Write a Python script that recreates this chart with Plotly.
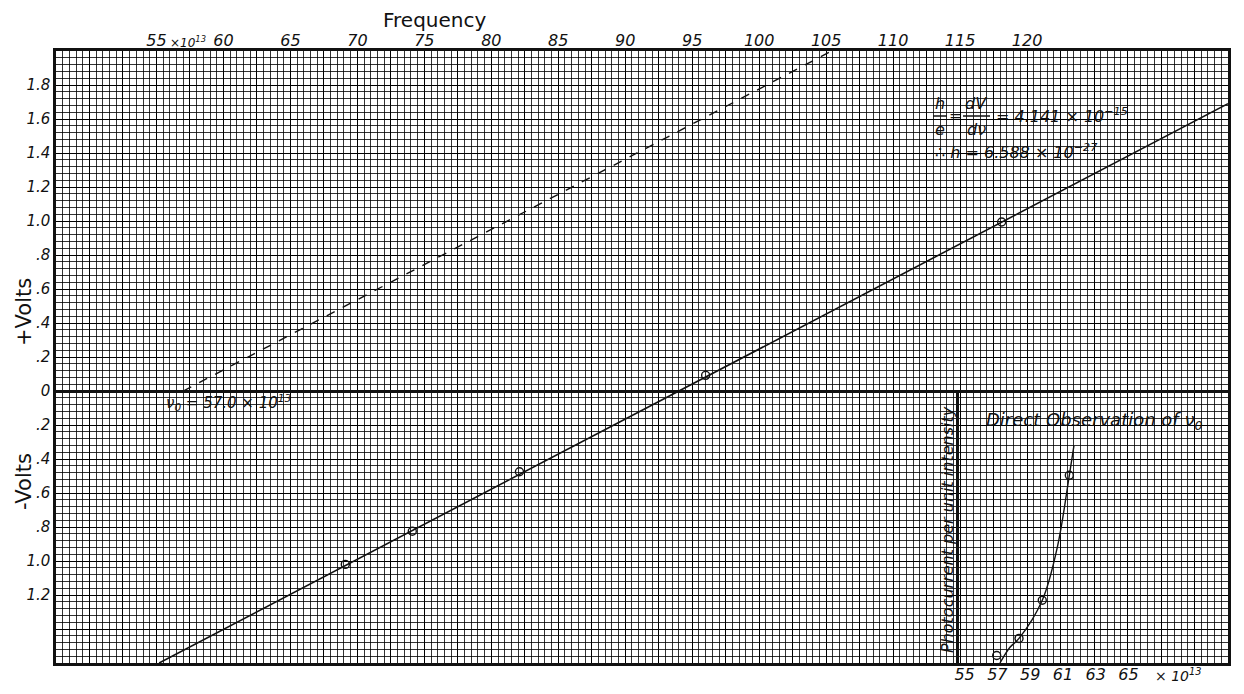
import plotly.graph_objects as go

# ---------------- data ----------------
freq = [69.1, 74.1, 82.1, 96.0, 118.1]            # x10^13 Hz
volts = [-1.02, -0.825, -0.475, 0.092, 0.994]      # V
fit_freq = [55.2, 135.0]
fit_volts = [-1.6, 1.69]
dash_freq = [57.0, 105.4]
dash_volts = [0.0, 2.0]

x_tickvals = [55, 60, 65, 70, 75, 80, 85, 90, 95, 100, 105, 110, 115, 120]
x_ticktext = ["55", "60", "65", "70", "75", "80", "85", "90", "95", "100", "105", "110", "115", "120"]
y_tickvals = [-1.2, -1.0, -0.8, -0.6, -0.4, -0.2, 0, 0.2, 0.4, 0.6, 0.8, 1.0, 1.2, 1.4, 1.6, 1.8]
y_ticktext = ["1.2", "1.0", ".8", ".6", ".4", ".2", "0", ".2", ".4", ".6", ".8", "1.0", "1.2", "1.4", "1.6", "1.8"]

inset_freq = [56.96, 58.32, 59.74, 61.39]
inset_current = [1.1, 3.6, 9.2, 27.5]
inset_curve_freq = [57.16, 57.77, 58.32, 59.74, 60.67, 61.39, 61.67]
inset_curve_current = [0.0, 2.3, 3.6, 9.2, 17.1, 27.5, 31.8]
inset_tickvals = [55, 57, 59, 61, 63, 65]
inset_ticktext = ["55", "57", "59", "61", "63", "65"]

# ---------------- layout geometry ----------------
# the page body adds an 8px offset; plot area should land at x 56..1228, y 51..663 on screen
OFF = 8
W, H = 1244 - 2 * OFF, 694 - 2 * OFF
PL, PR, PT, PB = 56, 1228, 51, 663          # plot area in screen pixels
PW, PH = PR - PL, PB - PT
ML, MT = PL - OFF, PT - OFF
MR = W - ML - PW
MB = H - MT - PH

X_RANGE = [47.5, 135]
Y_RANGE = [-1.6, 2.0]


def px(x):
    return (x - PL) / PW


def py(y):
    return (PB - y) / PH


FONT = "DejaVu Sans"
INK = "#111111"

fig = go.Figure()

# empty trace that registers the graph-paper grid axes
fig.add_trace(go.Scatter(x=[], y=[], xaxis="x3", yaxis="y3", showlegend=False, hoverinfo="skip"))

fig.add_trace(go.Scatter(x=fit_freq, y=fit_volts, mode="lines",
                         line=dict(color=INK, width=1.6), showlegend=False, hoverinfo="skip"))
fig.add_trace(go.Scatter(x=dash_freq, y=dash_volts, mode="lines",
                         line=dict(color=INK, width=1.4, dash="dash"), showlegend=False, hoverinfo="skip"))
fig.add_trace(go.Scatter(x=freq, y=volts, mode="markers",
                         marker=dict(symbol="circle-open", size=8, color=INK, line=dict(width=1.4)),
                         showlegend=False))

fig.add_trace(go.Scatter(x=inset_curve_freq, y=inset_curve_current, mode="lines",
                         line=dict(color=INK, width=1.4, shape="spline"),
                         xaxis="x2", yaxis="y2", showlegend=False, hoverinfo="skip"))
fig.add_trace(go.Scatter(x=inset_freq, y=inset_current, mode="markers",
                         marker=dict(symbol="circle-open", size=8, color=INK, line=dict(width=1.4)),
                         xaxis="x2", yaxis="y2", showlegend=False))

grid_minor = dict(tickmode="linear", showgrid=True, gridcolor="rgba(0,0,0,0.8)", gridwidth=1)

fig.update_layout(
    width=W, height=H,
    margin=dict(l=ML, r=MR, t=MT, b=MB),
    paper_bgcolor="white", plot_bgcolor="rgba(0,0,0,0)",
    font=dict(family=FONT, color=INK),
    # labelled axes
    xaxis=dict(
        range=X_RANGE, side="top", domain=[0, 1], automargin=False,
        tickmode="array", tickvals=x_tickvals, ticktext=x_ticktext,
        tickfont=dict(size=16, style="italic"), ticks="", ticklabelstandoff=-4,
        showgrid=False, showline=True, mirror=True, linecolor=INK, linewidth=2.5, zeroline=False,
    ),
    yaxis=dict(
        range=Y_RANGE, domain=[0, 1], automargin=False,
        tickmode="array", tickvals=y_tickvals, ticktext=y_ticktext,
        tickfont=dict(size=15, style="italic"), ticks="",
        showgrid=False, showline=True, mirror=True, linecolor=INK, linewidth=2.5,
        zeroline=True, zerolinecolor=INK, zerolinewidth=2.5,
    ),
    # graph-paper grid axes
    xaxis3=dict(
        range=X_RANGE, overlaying="x", anchor="y3", automargin=False,
        tickmode="linear", tick0=47.5, dtick=2.5, showticklabels=False, ticks="",
        showgrid=True, gridcolor="#000000", gridwidth=1.3,
        minor=dict(tick0=47.5, dtick=0.5, **grid_minor),
        showline=False, zeroline=False,
    ),
    yaxis3=dict(
        range=Y_RANGE, overlaying="y", anchor="x3", automargin=False,
        tickmode="linear", tick0=0, dtick=0.2, showticklabels=False, ticks="",
        showgrid=True, gridcolor="#000000", gridwidth=1.3,
        minor=dict(tick0=0, dtick=0.04, **grid_minor),
        showline=False, zeroline=False,
    ),
    # inset axes
    xaxis2=dict(
        domain=[px(959), 1], anchor="y2", range=[54.66, 71.07], automargin=False,
        tickmode="array", tickvals=inset_tickvals, ticktext=inset_ticktext,
        tickfont=dict(size=16, style="italic"), ticks="", side="bottom",
        showgrid=False, zeroline=False, showline=False,
    ),
    yaxis2=dict(
        domain=[0, py(390)], anchor="x2", range=[0, 40], automargin=False,
        showticklabels=False, ticks="", showgrid=False, zeroline=False,
        showline=True, linecolor=INK, linewidth=2.5,
    ),
)

ann = []


def add_text(x, y, text, size=15, angle=0, xanchor="center", italic=True):
    ann.append(dict(x=px(x), y=py(y), xref="paper", yref="paper", text=text, showarrow=False,
                    xanchor=xanchor, yanchor="middle", textangle=angle,
                    font=dict(size=size, family=FONT, color=INK, style="italic" if italic else "normal")))


add_text(434, 20, "Frequency", size=20, italic=False)
add_text(168, 42, "×10<sup>13</sup>", size=12, xanchor="left")
add_text(24, 312, "+Volts", size=21, angle=-90, italic=False)
add_text(24, 482, "-Volts", size=21, angle=-90, italic=False)
add_text(228, 402, "ν<sub>0</sub> = 57.0 × 10<sup>13</sup>", size=15)

# formula block
add_text(940, 103, "h", size=16)
add_text(940, 129, "e", size=16)
add_text(955, 116, "=", size=16)
add_text(976, 103, "dV", size=16)
add_text(976, 129, "dν", size=16)
add_text(994, 116, "= 4.141 × 10<sup>−15</sup>", size=16, xanchor="left")
add_text(933, 151, "∴ h = 6.588 × 10<sup>−27</sup>", size=16, xanchor="left")

# inset texts
add_text(1094, 421, "Direct Observation of ν<sub>0</sub>", size=18)
add_text(947, 530, "Photocurrent per unit intensity", size=16, angle=-90)
add_text(1178, 675, "× 10<sup>13</sup>", size=14)

fig.update_layout(annotations=ann)

fig.add_shape(type="line", xref="paper", yref="paper", x0=px(933), x1=px(947), y0=py(116), y1=py(116),
              line=dict(color=INK, width=1.5))
fig.add_shape(type="line", xref="paper", yref="paper", x0=px(963), x1=px(990), y0=py(116), y1=py(116),
              line=dict(color=INK, width=1.5))

fig.write_html("out.html")
